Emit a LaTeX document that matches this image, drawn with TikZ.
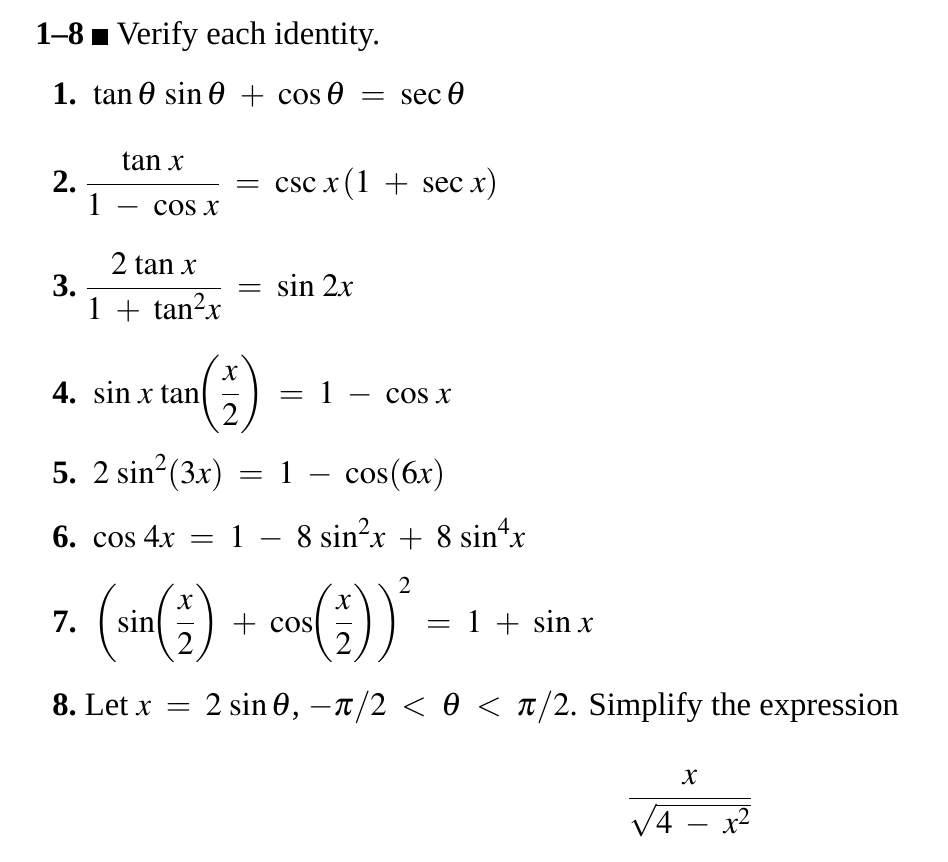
\documentclass[tikz,border=0pt]{standalone}
\usepackage{amsmath}
\usepackage{mathptmx}
\usepackage{fontspec}
\setmainfont{Liberation Serif}
\newcommand\mysetup{\fontsize{24.5}{28}\selectfont\medmuskip=7mu plus 2mu\relax\thickmuskip=8mu plus 3mu\relax}
\begin{document}
\begin{tikzpicture}[x=0.75pt,y=-0.75pt,txt/.style={anchor=base west,inner sep=0pt,font=\mysetup}]
\useasboundingbox (0,0) rectangle (948,862);
\node[txt] (t) at (35,45) {\textbf{1--8} \tikz[baseline=0pt]\fill (0,0) rectangle (12pt,12pt); Verify each identity.};
\node[txt] (n1) at (52,105) {\textbf{1.}\ \ $\tan\theta\,\sin\theta+\cos\theta=\sec\theta$};
\node[txt] (n2) at (52,193) {\textbf{2.}\ $\dfrac{\tan\,x}{1-\cos\,x}=\csc\,x\,(1+\sec\,x)$};
\node[txt] (n3) at (52,297) {\textbf{3.}\ $\dfrac{2\,\tan\,x}{1+\tan^2\!x}=\sin\,2x$};
\node[txt] (n4) at (52,403) {\textbf{4.}\ \ $\sin\,x\,\tan\!\biggl(\dfrac{x}{2}\biggr)=1-\cos\,x$};
\node[txt] (n5) at (52,483) {\textbf{5.}\ \ $2\,\sin^2(3x)=1-\cos(6x)$};
\node[txt] (n6) at (52,547) {\textbf{6.}\ \ $\cos\,4x=1-8\,\sin^2\!x+8\,\sin^4\!x$};
\node[txt] (n7) at (52,632) {\textbf{7.}\ \ $\biggl(\sin\!\biggl(\dfrac{x}{2}\biggr)+\cos\!\biggl(\dfrac{x}{2}\biggr)\biggr)^{\!2}=1+\sin\,x$};
\node[txt] (n8) at (52,715) {\textbf{8.}\ Let $x=2\,\sin\theta$, $-\pi/2<\theta<\pi/2$. Simplify the expression};
\node[txt,anchor=base] (f) at (690,807) {$\dfrac{x}{\sqrt{4-x^2}}$};
\end{tikzpicture}
\end{document}
